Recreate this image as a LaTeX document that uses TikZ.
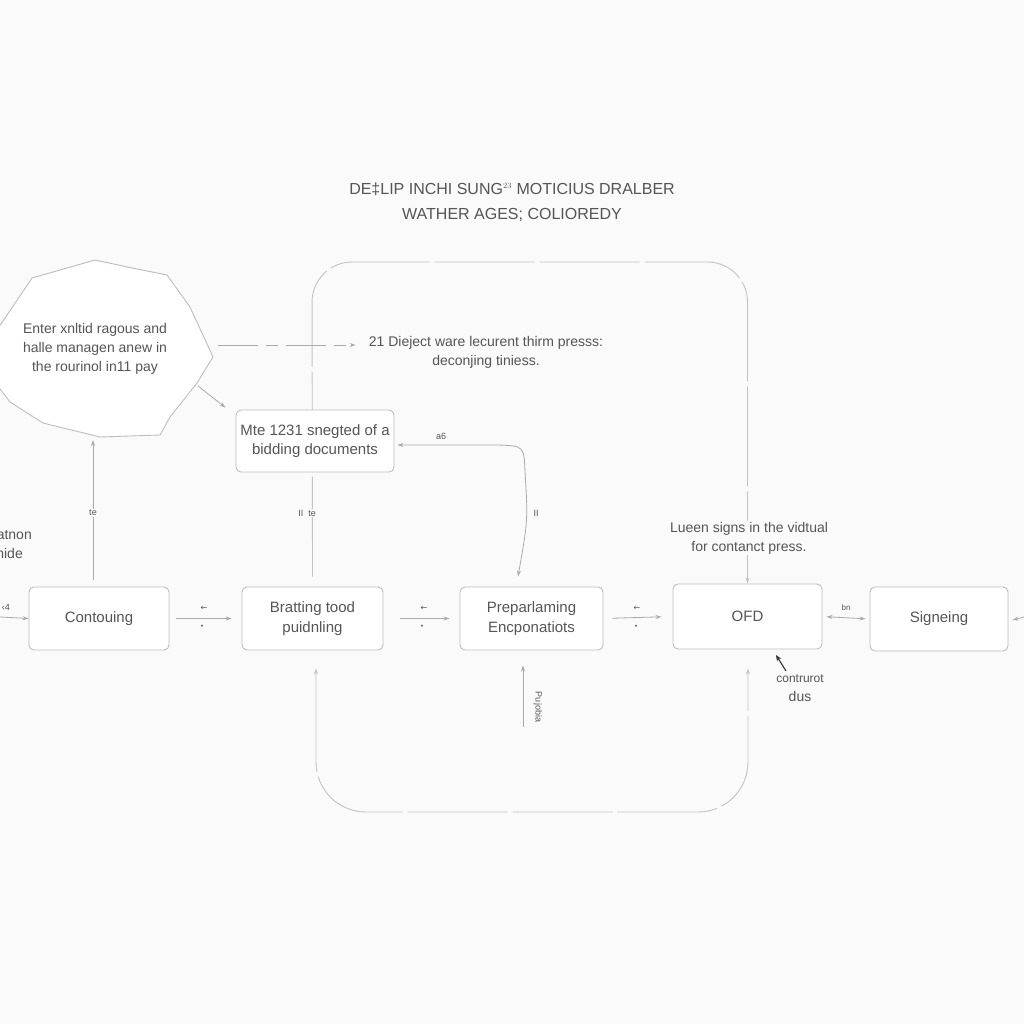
\documentclass[tikz,border=0pt]{standalone}
\usepackage{fontspec}
\setmainfont{Liberation Sans}
\newfontfamily\symfont{DejaVu Sans}
\usetikzlibrary{arrows.meta,calc,backgrounds}
\definecolor{bgc}{HTML}{FAFAFA}
\definecolor{linec}{HTML}{AAAAAA}
\definecolor{loopc}{HTML}{C2C2C2}
\definecolor{boxc}{HTML}{BDBDBD}
\definecolor{txtc}{HTML}{555555}
\definecolor{darkc}{HTML}{333333}
\tikzset{
  procbox/.style={draw=boxc, line width=0.9pt, rounded corners=5pt, fill=white,
    align=center, text=txtc, font=\fontsize{15}{19.5}\selectfont, inner sep=0pt},
  plaintext/.style={align=center, text=txtc, font=\fontsize{14}{19}\selectfont, inner sep=1pt},
  tinylab/.style={text=txtc, font=\fontsize{9}{10}\selectfont, inner sep=1pt},
  conn/.style={draw=linec, line width=0.8pt, -{Stealth[length=6pt,width=4pt]}},
  biconn/.style={draw=linec, line width=0.8pt, {Stealth[length=6pt,width=4pt]}-{Stealth[length=6pt,width=4pt]}},
  loopline/.style={draw=loopc, line width=0.9pt, dash pattern=on 100pt off 5pt},
}
\begin{document}
\begin{tikzpicture}[x=1pt,y=-1pt]
\begin{pgfonlayer}{background}
\fill[bgc] (0,0) rectangle (1024,1024);
\end{pgfonlayer}
\useasboundingbox (0,0) rectangle (1024,1024);

% title
\node[plaintext, font=\fontsize{16}{25}\selectfont, text=txtc] (title) at (512,202)
  {DE‡LIP INCHI SUNG$^{\scriptscriptstyle 23}$ MOTICIUS DRALBER\\WATHER AGES; COLIOREDY};

% blob
\draw[draw=boxc, line width=0.9pt, fill=white]
  (-3,330) -- (32,278) -- (95,260) -- (132,268) -- (167,275) -- (190,307)
  -- (213,357) -- (197,383) -- (170,417) -- (160,435) -- (100,437)
  -- (43,423) -- (10,402) -- (-3,385);
\coordinate (blobE) at (218,345);
\coordinate (blobSE) at (198,386);
\coordinate (blobS) at (93,440);
\node[plaintext] (blobtext) at (95,349) {Enter xnltid ragous and\\halle managen anew in\\the rourinol in11 pay};

% boxes
\node[procbox, minimum width=158pt, minimum height=62pt] (mte) at (315,441) {Mte 1231 snegted of a\\bidding documents};
\node[procbox, minimum width=140pt, minimum height=63pt] (contour) at (99,618.5) {Contouing};
\node[procbox, minimum width=141pt, minimum height=63pt] (bratt) at (312.5,618.5) {Bratting tood\\puidnling};
\node[procbox, minimum width=143pt, minimum height=63pt] (prep) at (531.5,618.5) {Preparlaming\\Encponatiots};
\node[procbox, minimum width=149pt, minimum height=65pt] (ofd) at (747.5,616.5) {OFD};
\node[procbox, minimum width=138pt, minimum height=64pt] (sign) at (939,619) {Signeing};

% texts
\node[plaintext] (dieject) at (486,352) {21 Dieject ware lecurent thirm presss:\\deconjing tiniess.};
\node[plaintext, fill=bgc] (lueen) at (749,538) {Lueen signs in the vidtual\\for contanct press.};
\node[plaintext] (contr) at (800,688) {{\fontsize{12}{14}\selectfont contrurot}\\dus};
\node[plaintext, anchor=east] (atnon) at (33,535) {atnon};
\node[plaintext, anchor=east] (hide) at (24,553) {hide};

% dashed loop (behind boxes)
\begin{pgfonlayer}{background}
\draw[loopline, rounded corners=40pt, -{Stealth[length=6pt,width=4pt]}]
  ($(bratt.north)+(0,-10)$) -- (312,262) -- (747.5,262) -- (ofd.north);
\draw[loopline, rounded corners=50pt, {Stealth[length=6pt,width=4pt]}-{Stealth[length=6pt,width=4pt]}]
  ($(bratt.south)+(3.5,18)$) -- (316,812) -- (748,812) -- ($(ofd.south)+(0.5,19)$);
\end{pgfonlayer}

% connectors
\draw[conn, dash pattern=on 40pt off 8pt on 12pt off 8pt] (blobE) -- ($(dieject.west |- blobE)+(-12,0)$);
\draw[conn] (blobSE) -- ($(mte.north west)+(-10,-2)$);
\draw[conn] ($(contour.north)+(-6,-7)$) -- (blobS);
\draw[biconn] ($(prep.north)+(-13.5,-10)$) .. controls (528,520) .. (525,472)
  .. controls (524,446) .. (498,445) -- ($(mte.east)+(3,4)$);

\draw[conn] (0,617) -- (contour.west);
\draw[conn, shorten <=7pt, shorten >=10pt] (contour.east) -- (bratt.west);
\draw[conn, shorten <=17pt, shorten >=10pt] (bratt.east) -- (prep.west);
\draw[conn, shorten <=9pt, shorten >=11pt] (prep.east) -- (ofd.west);
\draw[biconn, shorten <=4pt, shorten >=4pt] (ofd.east) -- (sign.west);
\draw[conn] (1024,617) -- ($(sign.east)+(4,1)$);
\draw[conn] ($(prep.south)+(-8.5,77)$) -- ($(prep.south)+(-8.5,15)$);
\draw[draw=darkc, line width=1.1pt, -{Stealth[length=6pt,width=5pt]}] (786,671) -- (776,655);

% small labels
\node[tinylab, fill=bgc] (lte) at (93,513) {te};
\node[tinylab, fill=bgc] (lii) at (307,513) {II\ \ te};
\node[tinylab] (lii2) at (536,513) {II};
\node[tinylab] (la6) at (441,436) {a6};
\node[tinylab] (l0) at (6,607) {‹4};
\node[tinylab, font=\symfont\fontsize{8}{9}\selectfont] (l1) at (204,608) {←};
\node[tinylab, font=\fontsize{7}{8}\selectfont] (l1b) at (202,627) {•};
\node[tinylab, font=\symfont\fontsize{8}{9}\selectfont] (l2) at (424,608) {←};
\node[tinylab, font=\fontsize{7}{8}\selectfont] (l2b) at (422,627) {•};
\node[tinylab, font=\symfont\fontsize{8}{9}\selectfont] (l3) at (637,608) {←};
\node[tinylab, font=\fontsize{7}{8}\selectfont] (l3b) at (636,627) {•};
\node[tinylab, font=\fontsize{8}{9}\selectfont] (l4) at (846,608) {bn};
\node[tinylab, rotate=-90] (lrot) at (538,707) {Pujobia};
\end{tikzpicture}
\end{document}
